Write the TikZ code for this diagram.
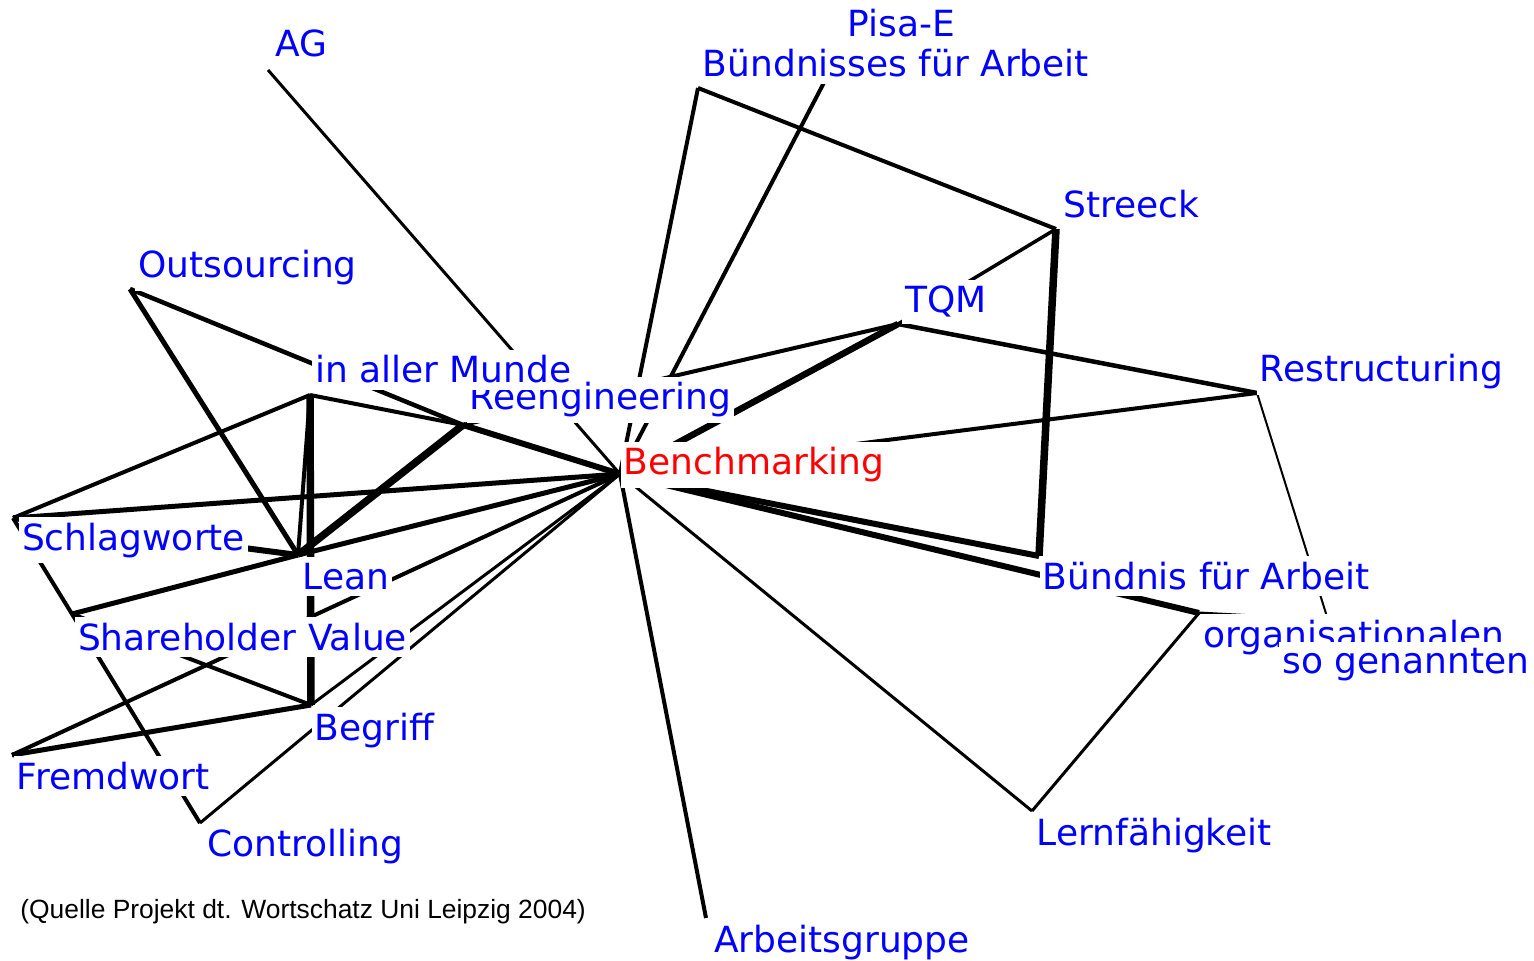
\documentclass[tikz,border=0pt]{standalone}
\usepackage{fontspec}
\newfontfamily\labfont{DejaVu Sans}
\newfontfamily\srcfont{Liberation Sans}
\definecolor{lblue}{RGB}{0,0,255}
\definecolor{lred}{RGB}{255,0,0}
\tikzset{
  lbl/.style={anchor=base west, fill=white, inner xsep=1.5pt, inner ysep=3pt, text=lblue,
    font=\labfont\fontsize{18pt}{20pt}\selectfont},
  hub/.style={lbl, text=lred},
  srctext/.style={anchor=base west, inner sep=0pt, text=black, font=\srcfont\fontsize{13.2pt}{15pt}\selectfont},
  wA/.style={line width=1pt},
  wB/.style={line width=1.5pt},
  wC/.style={line width=1.75pt},
  wD/.style={line width=2pt},
  wE/.style={line width=2.25pt},
  wF/.style={line width=2.5pt},
  wG/.style={line width=3pt},
  wH/.style={line width=3.25pt},
  wI/.style={line width=3.75pt},
}
\begin{document}
\begin{tikzpicture}[x=0.5pt,y=-0.5pt]
\useasboundingbox (0,0) rectangle (1534,961);
\fill[white] (0,0) rectangle (1534,961);
% vertices
\coordinate (vAG)  at (268,70);
\coordinate (vPis) at (842,48);
\coordinate (vBdn) at (698,88);
\coordinate (vStr) at (1056,229);
\coordinate (vTQM) at (898,324);
\coordinate (vRes) at (1257,393);
\coordinate (vOut) at (130,289);
\coordinate (vMun) at (310,395);
\coordinate (vRee) at (463,425);
\coordinate (vBen) at (620,474);
\coordinate (vSch) at (13,518);
\coordinate (vLea) at (298,555);
\coordinate (vSha) at (72,614);
\coordinate (vBeg) at (311,705);
\coordinate (vFre) at (12,755);
\coordinate (vCon) at (200,823);
\coordinate (vBfA) at (1039,556);
\coordinate (vOrg) at (1199,613);
\coordinate (vSog) at (1328,620);
\coordinate (vLer) at (1032,811);
\coordinate (vArb) at (706,918);
% connectors
\draw[wB] (vAG) -- (vBen);
\draw[wD] (vBdn) -- (vStr);
\draw[wD] (vBdn) -- (vBen);
\draw[wD] (vPis) -- (vBen);
\draw[wC] (vStr) -- (vTQM);
\draw[wI] (vStr) -- (vBfA);
\draw[wE] (vTQM) -- (vRes);
\draw[wH] (vTQM) -- (vBen);
\draw[wD] (vTQM) -- (vRee);
\draw[wD] (vRes) -- (vBen);
\draw[wA] (vRes) -- (vSog);
\draw[wG] (vBen) -- (vBfA);
\draw[wG] (vBen) -- (vOrg);
\draw[wB] (vOrg) -- (vSog);
\draw[wB] (vLer) -- (vOrg);
\draw[wB] (vBen) -- (vLer);
\draw[wD] (vBen) -- (vArb);
\draw[wE] (vOut) -- (vRee);
\draw[wF] (vOut) -- (vLea);
\draw[wD] (vSch) -- (vMun);
\draw[wD] (vMun) -- (vLea);
\draw[wI] (vMun) -- (vBeg);
\draw[wD] (vMun) -- (vRee);
\draw[wI] (vRee) -- (vLea);
\draw[wG] (vRee) -- (vBen);
\draw[wF] (vSch) -- (vBen);
\draw[wG] (vSch) -- (vLea);
\draw[wD] (vSch) -- (vSha);
\draw[wD] (vSha) -- (vCon);
\draw[wF] (vSha) -- (vLea);
\draw[wD] (vSha) -- (vBeg);
\draw[wF] (vLea) -- (vBen);
\draw[wD] (vFre) -- (vBen);
\draw[wF] (vFre) -- (vBeg);
\draw[wB] (vBeg) -- (vBen);
\draw[wB] (vCon) -- (vBen);
% labels
\node[lbl] (lAG)  at (272,57)   {AG};
\node[lbl] (lPis) at (844.5,37) {Pisa-E};
\node[lbl] (lBdn) at (699.5,77) {Bündnisses für Arbeit};
\node[lbl] (lStr) at (1060,218) {Streeck};
\node[lbl] (lTQM) at (902,313)  {TQM};
\node[lbl] (lRes) at (1256.5,382) {Restructuring};
\node[lbl] (lOut) at (135,278)  {Outsourcing};
\node[lbl] (lRee) at (466.5,410) {Reengineering};
\node[lbl] (lMun) at (311.7,383) {in aller Munde};
\node[hub] (lBen) at (620.5,475) {Benchmarking};
\node[lbl] (lSch) at (18.7,550) {Schlagworte};
\node[lbl] (lLea) at (299.5,589) {Lean};
\node[lbl] (lSha) at (74.7,650) {Shareholder Value};
\node[lbl] (lBeg) at (311.5,740) {Begriff};
\node[lbl] (lFre) at (13.5,789) {Fremdwort};
\node[lbl] (lCon) at (204,856)  {Controlling};
\node[lbl] (lBfA) at (1039.5,589) {Bündnis für Arbeit};
\node[lbl] (lOrg) at (1200,647) {organisationalen};
\node[lbl] (lSog) at (1279,673) {so genannten};
\node[lbl] (lLer) at (1033.5,845) {Lernfähigkeit};
\node[lbl] (lArb) at (710.7,952) {Arbeitsgruppe};
\node[srctext] (src) at (20,918) {(Quelle Projekt dt. Wortschatz Uni Leipzig 2004)};
\end{tikzpicture}
\end{document}
